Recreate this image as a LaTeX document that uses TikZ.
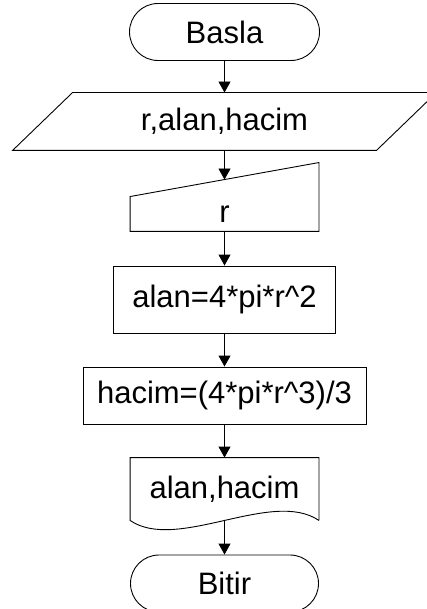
\documentclass[tikz,border=0pt]{standalone}
\usepackage{fontspec}
\setmainfont{Liberation Sans}
\usetikzlibrary{arrows.meta,calc}
\begin{document}
\begin{tikzpicture}[x=1pt,y=-1pt, line width=0.9pt,
  every node/.style={font=\fontsize{31}{37}\selectfont, inner sep=0pt},
  term/.style={draw, rectangle, rounded corners=28.5pt, minimum width=190pt, minimum height=57pt},
  proc/.style={draw, rectangle, minimum height=57pt},
  ghost/.style={rectangle},
  arr/.style={-{Triangle[width=12pt,length=11pt]}}]
\useasboundingbox (0,0) rectangle (427,609);

\node[term] (basla) at (224.5,32) {Basla};

\node[ghost, minimum width=363pt, minimum height=57pt] (inp) at (224.5,121.5) {r,alan,hacim};
\draw ($(inp.north west)+(30,0)$) -- ($(inp.north east)+(30,0)$) -- ($(inp.south east)+(-30,0)$) -- ($(inp.south west)+(-30,0)$) -- cycle;

\node[ghost, minimum width=188pt, minimum height=34pt] (rin) at (224.5,214) {r};
\draw (rin.south west) -- (rin.north west) -- ($(rin.north east)+(0,-34)$) -- (rin.south east) -- cycle;
\coordinate (rintop) at ($(rin.north)+(0,-17)$);

\node[proc, minimum width=222pt, minimum height=67pt] (alan) at (224.5,299.5) {alan=4*pi*r\textasciicircum 2};

\node[proc, minimum width=283pt] (hacim) at (224.5,395.5) {hacim=(4*pi*r\textasciicircum 3)/3};

\node[ghost, minimum width=188pt, minimum height=62pt] (doc) at (224.5,489) {alan,hacim};
\draw (doc.south east) -- (doc.north east) -- (doc.north west) -- (doc.south west)
  .. controls ($(doc.south west)+(47,32)$) and ($(doc.south east)+(-47,-32)$) .. (doc.south east);

\node[term, minimum width=188pt] (bitir) at (224.5,583.5) {Bitir};

\draw[arr] (basla.south) -- (inp.north);
\draw[arr] (inp.south) -- (rintop);
\draw[arr] (rin.south) -- (alan.north);
\draw[arr] (alan.south) -- (hacim.north);
\draw[arr] (hacim.south) -- (doc.north);
\draw[arr] (doc.south) -- (bitir.north);
\end{tikzpicture}
\end{document}
